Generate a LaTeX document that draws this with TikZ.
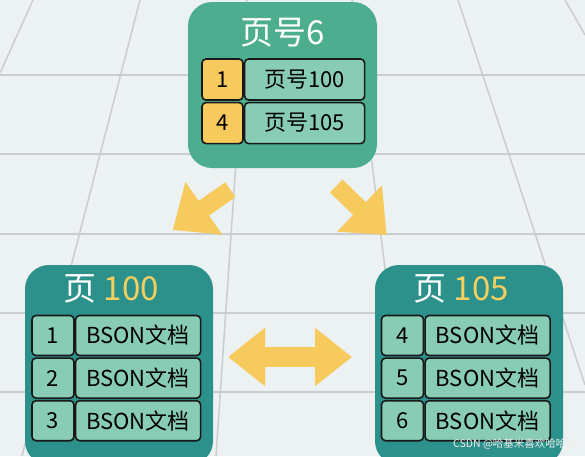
\documentclass[tikz,border=0pt]{standalone}
\usepackage{fontspec}
\setmainfont{Noto Sans CJK SC}
\usetikzlibrary{positioning,arrows.meta}
\definecolor{bgcol}{HTML}{ECF1F2}
\definecolor{gridcol}{HTML}{C9CDD1}
\definecolor{rootgreen}{HTML}{4DAE8F}
\definecolor{leafteal}{HTML}{2C918A}
\definecolor{cellgreen}{HTML}{88CCB6}
\definecolor{keyyellow}{HTML}{F6CA5C}
\definecolor{titleyellow}{HTML}{F5D060}

\begin{document}
\begin{tikzpicture}[x=1pt,y=-1pt,
	page/.style={rounded corners=24pt, inner sep=0pt},
	cell/.style={draw=black!90, line width=1.6pt, rounded corners=4pt, fill=cellgreen, inner sep=0pt,
		minimum height=40pt, font=\fontsize{22}{22}\selectfont},
	numcell/.style={cell, minimum width=42pt},
	keycell/.style={numcell, fill=keyyellow, minimum width=41pt, minimum height=41pt},
	doccell/.style={cell, minimum width=125pt},
	ptrcell/.style={cell, minimum width=120pt, minimum height=41pt},
	title/.style={text=white, inner sep=0pt, font=\fontsize{33}{33}\selectfont},
	fat/.style={color=keyyellow, line width=18pt}]
	\useasboundingbox (0,0) rectangle (585,456);
	\fill[bgcol] (0,0) rectangle (585,456);
	\clip (0,0) rectangle (585,456);

	\foreach \y in {75,154,234,313,392}
		\draw[gridcol, line width=1.5pt] (0,\y) -- (585,\y);
	\draw[gridcol, line width=1.5pt] (33,0) -- (0,73);
	\draw[gridcol, line width=1.5pt] (140,0) -- (22,456);
	\draw[gridcol, line width=1.5pt] (247,0) -- (216,456);
	\draw[gridcol, line width=1.5pt] (352,0) -- (408,456);
	\draw[gridcol, line width=1.5pt] (458,0) -- (585,385);
	\draw[gridcol, line width=1.5pt] (565,0) -- (585,35);

	\path (282.5,85) node(p6)[page, fill=rootgreen, minimum width=189pt, minimum height=166pt]{}
	(119,365) node(p100)[page, fill=leafteal, minimum width=188pt, minimum height=200pt]{}
	(469,365) node(p105)[page, fill=leafteal, minimum width=188pt, minimum height=200pt]{};

	\node[title] (t6) at (283,33) {页号6};
	\node[title] (t100) at (111,289) {页 \textcolor{titleyellow}{100}};
	\node[title] (t105) at (461,289) {页 \textcolor{titleyellow}{105}};

	\node[keycell] (k1) at (222.5,79.5) {1};
	\node[ptrcell, right=0pt of k1] (r1) {页号100};
	\node[keycell, below=1pt of k1] (k4) {4};
	\node[ptrcell, right=0pt of k4] (r4) {页号105};

	\node[numcell] (a1) at (53,335.5) {1};
	\node[doccell, right=0pt of a1] (d1) {BSON文档};
	\node[numcell, below=1pt of a1] (a2) {2};
	\node[doccell, right=0pt of a2] (d2) {BSON文档};
	\node[numcell, below=1pt of a2] (a3) {3};
	\node[doccell, right=0pt of a3] (d3) {BSON文档};

	\node[numcell] (b4) at (402.5,335.5) {4};
	\node[doccell, right=0pt of b4] (e4) {BSON文档};
	\node[numcell, below=1pt of b4] (b5) {5};
	\node[doccell, right=0pt of b5] (e5) {BSON文档};
	\node[numcell, below=1pt of b5] (b6) {6};
	\node[doccell, right=0pt of b6] (e6) {BSON文档};

	\coordinate (ls) at (230.3,189.7);
	\coordinate (le) at (172.7,230);
	\coordinate (rs) at (336.3,186);
	\coordinate (re) at (386.7,235);
	\coordinate (hl) at (228,357);
	\coordinate (hr) at (352,357);
	\draw[fat, -{Triangle[length=38pt,width=62pt]}] (ls) -- (le);
	\draw[fat, -{Triangle[length=38pt,width=62pt]}] (rs) -- (re);
	\draw[fat, line width=20pt, {Triangle[length=37pt,width=56pt]}-{Triangle[length=37pt,width=56pt]}] (hl) -- (hr);

	\node[anchor=west, inner sep=0pt, text=white!88!gray, font=\fontsize{10.5}{10.5}\selectfont] (mark) at (453,444) {CSDN @哈基米喜欢哈哈哈};
\end{tikzpicture}
\end{document}
